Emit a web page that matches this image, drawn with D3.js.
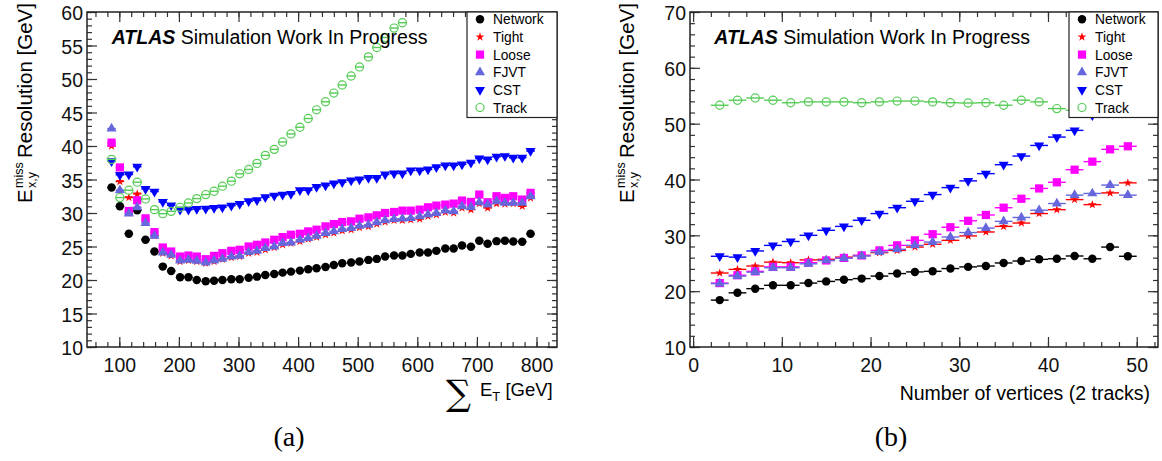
<!DOCTYPE html>
<html>
<head>
<meta charset="utf-8">
<script src="https://cdn.jsdelivr.net/npm/d3@7"></script>
<style>
body { margin: 0; background: #fff; }
svg text { font-family: "Liberation Sans", Arial, Helvetica, sans-serif; }
</style>
</head>
<body>
<svg id="fig" width="1162" height="461"></svg>
<script>
// ---------- data ----------
names = ["Network", "Tight", "Loose", "FJVT", "CST", "Track"];
colors = ["#000000", "#ff0000", "#ff00ff", "#6666dd", "#0000ff", "#55cc55"];

// panel (a): bin centres of sum ET [GeV]
sumEt = [87,101,116,130,144,159,173,187,202,216,230,245,259,273,288,302,317,331,345,360,
         374,388,403,417,431,446,460,474,489,503,518,532,546,561,575,589,604,618,632,647,
         661,675,690,704,718,733,747,761,776,790];
netA = [33.8,31.0,26.9,30.4,26.0,24.25,22.0,21.35,20.4,20.4,20.0,19.8,19.9,20.0,20.1,20.1,20.35,20.5,20.75,20.9,
        21.1,21.25,21.4,21.6,21.75,21.95,22.25,22.5,22.6,22.75,23.0,23.15,23.5,23.65,23.65,23.9,24.1,24.1,24.35,24.7,
        24.7,25.15,24.95,25.85,25.4,25.8,25.85,25.75,25.7,26.9];
tightA = [40.0,34.7,32.3,32.85,28.8,26.6,24.0,23.6,22.75,22.9,22.75,22.5,22.75,23.1,23.35,23.5,24.0,24.15,24.5,24.85,
          25.25,25.5,25.75,26.1,26.4,26.75,27.0,27.35,27.5,27.85,28.0,28.35,28.65,28.9,28.9,29.0,29.1,29.5,29.75,30.1,
          30.0,30.75,30.5,31.4,30.75,31.4,31.35,31.4,31.0,32.25];
looseA = [40.5,36.8,30.3,31.9,29.2,27.15,24.85,24.25,23.5,23.65,23.5,23.1,23.6,24.0,24.35,24.5,25.0,25.25,25.6,26.0,
          26.4,26.75,26.9,27.25,27.5,28.0,28.35,28.65,28.75,29.15,29.35,29.65,30.0,30.15,30.35,30.35,30.5,30.85,31.1,31.25,
          31.4,31.85,31.65,32.75,31.6,32.5,32.25,32.5,32.0,33.0];
fjvtA = [42.6,33.4,29.9,30.85,28.5,26.6,24.1,23.75,22.9,23.0,22.85,22.6,22.9,23.15,23.5,23.6,24.15,24.35,24.75,25.0,
         25.5,25.6,26.0,26.25,26.6,27.0,27.25,27.6,27.75,28.1,28.25,28.6,28.9,29.1,29.15,29.25,29.5,29.75,30.0,30.35,
         30.25,31.0,30.9,31.6,31.25,31.75,31.5,31.5,31.5,32.5];
cstA = [37.75,35.7,35.75,36.9,33.6,33.2,31.65,31.15,30.5,30.5,30.6,30.65,30.75,30.85,31.1,31.35,31.75,31.9,32.35,32.6,
        32.75,32.85,33.4,33.4,33.9,34.1,34.4,34.6,34.85,35.0,35.25,35.25,35.75,35.9,35.9,36.35,36.35,36.5,36.85,37.1,
        37.1,37.25,37.5,38.15,38.0,38.4,38.5,38.25,38.25,39.25];
trackA = [38.0,32.3,33.4,34.6,32.1,30.5,29.9,30.25,30.85,31.5,32.15,32.75,33.25,34.0,34.75,35.85,36.5,37.4,38.6,39.5,
          40.6,41.8,42.8,44.1,45.4,46.6,47.9,49.1,50.45,51.8,53.3,54.7,56.2,57.6,58.4];

// panel (b): number of vertices (bin centres)
nVtx = [3,5,7,9,11,13,15,17,19,21,23,25,27,29,31,33,35,37,39,41,43,45,47,49];
netB = [18.4,19.7,20.45,21.05,21.05,21.45,21.75,22.05,22.25,22.7,23.15,23.45,
        23.55,24.05,24.35,24.5,25.05,25.4,25.7,25.8,26.3,25.8,27.9,26.25];
tightB = [23.25,23.9,24.5,25.2,25.1,25.6,25.7,26.1,26.4,26.9,27.3,27.9,
          28.4,29.1,29.9,30.6,31.6,32.2,33.9,34.6,36.4,35.5,37.6,39.4];
looseB = [21.45,22.85,23.55,24.35,24.35,25.1,25.5,25.95,26.4,27.3,28.2,29.1,
          30.2,31.45,32.6,33.65,34.95,36.55,38.4,39.5,41.75,43.2,45.4,45.95];
fjvtB = [21.35,22.7,23.4,24.2,24.2,24.9,25.5,25.9,26.3,27.0,27.5,28.2,
         28.8,29.7,30.5,31.3,32.5,33.2,34.5,35.7,37.2,37.5,39.0,37.2];
cstB = [26.25,26.1,27.2,28.2,28.9,30.0,30.9,31.6,32.7,33.9,34.95,36.1,
        37.3,38.55,39.75,41.05,42.65,44.2,46.1,47.6,48.8,51.5];
trackB = [53.3,54.2,54.6,54.2,53.75,53.9,53.9,53.9,53.75,53.9,54.05,54.05,
          53.9,53.75,53.7,53.75,53.3,54.2,53.9,52.7,52.4];

// ---------- drawing ----------
svg = d3.select("#fig");
sans = '"Liberation Sans", Arial, Helvetica, sans-serif';

function marker(sel, i) {
	var types = [d3.symbolCircle, d3.symbolStar, d3.symbolSquare, d3.symbolTriangle, d3.symbolTriangle, d3.symbolCircle];
	var sizes = [56, 24, 68, 44, 44, 52];
	sel.attr("d", d3.symbol().type(types[i]).size(sizes[i]))
	.attr("fill", i == 5 ? "none" : colors[i])
	.attr("stroke", i == 5 ? colors[i] : "none")
	.attr("stroke-width", 1.2);
}

function ticks(g, axis, tx, ty) {
	var a = g.append("g").attr("transform", "translate(" + tx + "," + ty + ")").call(axis);
	a.select(".domain").remove();
	a.selectAll("line").attr("stroke", "#333").attr("stroke-width", 1.2);
	a.selectAll("text").attr("fill", "#111").style("font-size", "19.5px").style("font-family", sans);
	return a;
}

function drawPanel(p) {
	var x = d3.scaleLinear().domain(p.xDomain).range([p.x0, p.x1]);
	var y = d3.scaleLinear().domain(p.yDomain).range([p.y1, p.y0]);
	var g = svg.append("g");

	svg.append("clipPath").attr("id", "clip" + p.id)
	.append("rect").attr("x", p.x0).attr("y", p.y0)
	.attr("width", p.x1 - p.x0).attr("height", p.y1 - p.y0);

	// axes, ROOT style: ticks inside on all four sides
	ticks(g, d3.axisBottom(x).tickValues(p.xMajor).tickSize(-10).tickPadding(11).tickFormat(d3.format("d")), 0, p.y1);
	ticks(g, d3.axisBottom(x).tickValues(p.xMinor).tickSize(-5).tickFormat(""), 0, p.y1);
	ticks(g, d3.axisTop(x).tickValues(p.xMajor).tickSize(-10).tickFormat(""), 0, p.y0);
	ticks(g, d3.axisTop(x).tickValues(p.xMinor).tickSize(-5).tickFormat(""), 0, p.y0);
	ticks(g, d3.axisLeft(y).tickValues(p.yMajor).tickSize(-10).tickPadding(4), p.x0, 0)
		.selectAll("text").attr("dy", "0.4em");
	ticks(g, d3.axisLeft(y).tickValues(p.yMinor).tickSize(-5).tickFormat(""), p.x0, 0);
	ticks(g, d3.axisRight(y).tickValues(p.yMajor).tickSize(-10).tickFormat(""), p.x1, 0);
	ticks(g, d3.axisRight(y).tickValues(p.yMinor).tickSize(-5).tickFormat(""), p.x1, 0);

	var plot = g.append("g").attr("clip-path", "url(#clip" + p.id + ")");
	p.series.forEach(function(ys, i) {
		var pts = ys.map(function(v, j) { return [p.xs[j], v]; });
		var s = plot.append("g");
		s.selectAll("line").data(pts).enter().append("line")
		.attr("x1", function(d) { return x(d[0] - p.xErr); })
		.attr("x2", function(d) { return x(d[0] + p.xErr); })
		.attr("y1", function(d) { return y(d[1]); })
		.attr("y2", function(d) { return y(d[1]); })
		.attr("stroke", colors[i])
		.attr("stroke-width", 1.4);
		s.selectAll("path").data(pts).enter().append("path")
		.attr("transform", function(d) { return "translate(" + x(d[0]) + "," + y(d[1]) + ")" + (i == 4 ? " rotate(180)" : ""); })
		.call(marker, i);
	});

	// frame
	g.append("rect").attr("x", p.x0).attr("y", p.y0)
	.attr("width", p.x1 - p.x0).attr("height", p.y1 - p.y0)
	.attr("fill", "none").attr("stroke", "#222").attr("stroke-width", 1.5);

	// y title
	var yl = g.append("g").attr("transform", "translate(" + p.ylab[0] + "," + p.ylab[1] + ") rotate(-90)");
	yl.append("text").attr("x", 0).attr("y", 0).style("font-size", "20.5px").text("E");
	yl.append("text").attr("x", 15).attr("y", -9).style("font-size", "12.5px").text("miss");
	yl.append("text").attr("x", 15).attr("y", 4).style("font-size", "12.5px").text("x,y");
	yl.append("text").attr("x", 45).attr("y", 0).style("font-size", "20.5px").text("Resolution [GeV]");

	// ATLAS label
	var at = g.append("text").attr("x", p.atlas[0]).attr("y", p.atlas[1]).style("font-size", "19.5px");
	at.append("tspan").attr("font-weight", "bold").attr("font-style", "italic").text("ATLAS");
	at.append("tspan").text(" Simulation Work In Progress");

	// legend
	var lg = g.append("g");
	lg.append("rect").attr("x", p.leg[0]).attr("y", p.y0).attr("width", p.x1 - p.leg[0]).attr("height", p.leg[1] - p.y0)
	.attr("fill", "#fff").attr("stroke", "#222").attr("stroke-width", 1.2);
	names.forEach(function(n, i) {
		var cy = p.y0 + 7.3 + 17.65 * i;
		lg.append("path").attr("transform", "translate(" + (p.leg[0] + 13) + "," + cy + ")" + (i == 4 ? " rotate(180)" : ""))
		.call(marker, i);
		lg.append("text").attr("x", p.leg[0] + 26).attr("y", cy + 5).style("font-size", "13.8px").text(n);
	});

	// caption
	g.append("text").attr("x", p.cap[0]).attr("y", p.cap[1]).attr("text-anchor", "middle")
	.style("font-family", '"Liberation Serif", "DejaVu Serif", serif').style("font-size", "28px").text(p.capText);
	return g;
}

ga = drawPanel({
	id: "a", x0: 87, x1: 557, y0: 12, y1: 347,
	xDomain: [45.8, 834.4], yDomain: [10, 60],
	xMajor: d3.range(100, 801, 100), xMinor: d3.range(60, 831, 20),
	yMajor: d3.range(10, 61, 5), yMinor: d3.range(10, 61, 1),
	xs: sumEt, xErr: 7.2,
	series: [netA, tightA, looseA, fjvtA, cstA, trackA],
	ylab: [31.7, 203], atlas: [111.7, 44], leg: [467, 117.5], cap: [289, 446], capText: "(a)"
});

gb = drawPanel({
	id: "b", x0: 690, x1: 1158, y0: 12, y1: 347,
	xDomain: [-0.35, 52.4], yDomain: [10, 70],
	xMajor: d3.range(0, 51, 10), xMinor: d3.range(0, 53, 2),
	yMajor: d3.range(10, 71, 10), yMinor: d3.range(10, 71, 2),
	xs: nVtx, xErr: 1,
	series: [netB, tightB, looseB, fjvtB, cstB, trackB],
	ylab: [634, 203], atlas: [714.3, 44], leg: [1069, 117.5], cap: [891, 446], capText: "(b)"
});

// x titles
ga.append("text").attr("x", 446).attr("y", 405)
.style("font-family", '"DejaVu Serif", serif').style("font-size", "35px").text("\u2211");
var xt = ga.append("text").attr("x", 480).attr("y", 396).style("font-size", "18.5px");
xt.append("tspan").text("E");
xt.append("tspan").attr("dy", 5).style("font-size", "13px").text("T");
xt.append("tspan").attr("dy", -5).text(" [GeV]");

gb.append("text").attr("x", 1150).attr("y", 400).attr("text-anchor", "end")
.style("font-size", "19.5px").text("Number of vertices (2 tracks)");
</script>
</body>
</html>
